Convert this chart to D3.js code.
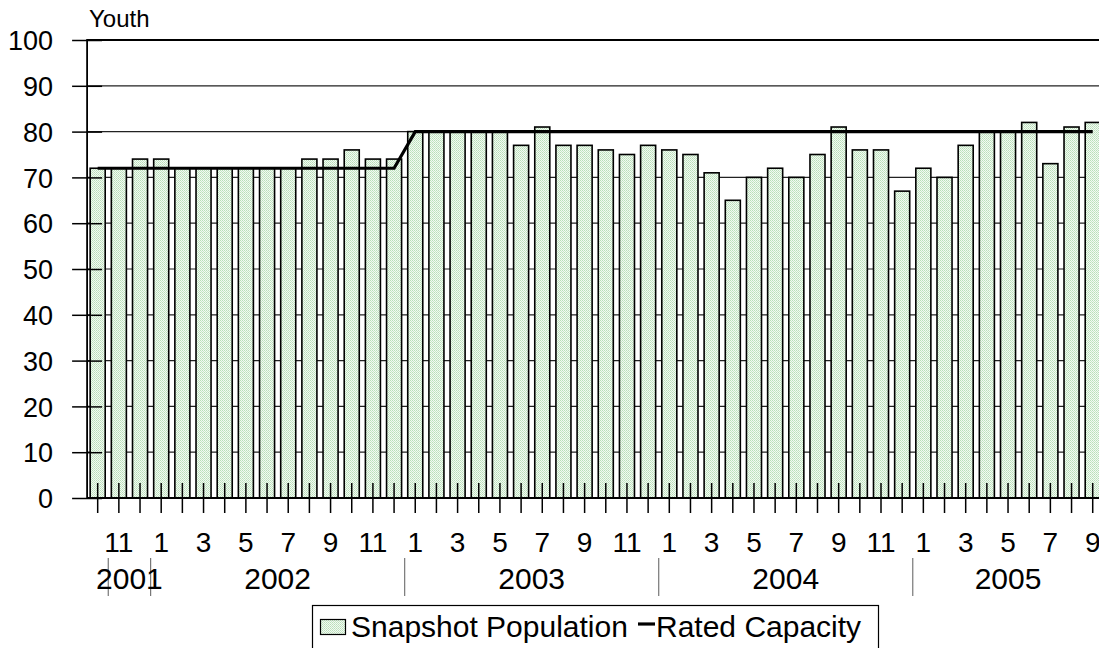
<!DOCTYPE html>
<html>
<head>
<meta charset="utf-8">
<script src="https://cdn.jsdelivr.net/npm/d3@7"></script>
<style>
  html, body { margin: 0; padding: 0; background: #fff; }
  svg { display: block; font-family: "Liberation Sans", Arial, sans-serif; }
</style>
</head>
<body>
<svg id="chart" width="1099" height="648"></svg>
<script>
// ---- DATA ----
const monthCol = [10, 11, 12,
  1, 2, 3, 4, 5, 6, 7, 8, 9, 10, 11, 12,
  1, 2, 3, 4, 5, 6, 7, 8, 9, 10, 11, 12,
  1, 2, 3, 4, 5, 6, 7, 8, 9, 10, 11, 12,
  1, 2, 3, 4, 5, 6, 7, 8, 9];
const yearCol = ["", "2001", "",
  "2002", "", "", "", "", "", "", "", "", "", "", "",
  "2003", "", "", "", "", "", "", "", "", "", "", "",
  "2004", "", "", "", "", "", "", "", "", "", "", "",
  "2005", "", "", "", "", "", "", "", ""];
const population = [72, 72, 74,
  74, 72, 72, 72, 72, 72, 72, 74, 74, 76, 74, 74,
  80, 80, 80, 80, 80, 77, 81, 77, 77, 76, 75, 77,
  76, 75, 71, 65, 70, 72, 70, 75, 81, 76, 76, 67,
  72, 70, 77, 80, 80, 82, 73, 81, 82];
const capacity = [72, 72, 72,
  72, 72, 72, 72, 72, 72, 72, 72, 72, 72, 72, 72,
  80, 80, 80, 80, 80, 80, 80, 80, 80, 80, 80, 80,
  80, 80, 80, 80, 80, 80, 80, 80, 80, 80, 80, 80,
  80, 80, 80, 80, 80, 80, 80, 80, 80];
const yTicks = [0, 10, 20, 30, 40, 50, 60, 70, 80, 90, 100];
const seriesNames = ["Snapshot Population", "Rated Capacity"];
const yAxisTitle = "Youth";

// ---- LAYOUT ----
const svg = d3.select("#chart");
const plotLeft = 87.1, plotRight = 1103.3, plotTop = 40, plotBottom = 498;
const font = '"Liberation Sans", Arial, sans-serif';

const idx = d3.range(population.length);
const x = d3.scaleBand().domain(idx).range([plotLeft, plotRight]).paddingInner(0.29).paddingOuter(0.145);
const xStep = x.step();
const xc = i => x(i) + x.bandwidth() / 2;
const y = d3.scaleLinear().domain([0, 100]).range([plotBottom, plotTop]);

// pattern for bars
const defs = svg.append("defs");
const pat = defs.append("pattern").attr("id", "stip").attr("width", 2).attr("height", 2)
  .attr("patternUnits", "userSpaceOnUse");
pat.append("rect").attr("width", 2).attr("height", 2).attr("fill", "#f2faf2");
pat.append("rect").attr("width", 1).attr("height", 1).attr("fill", "#b9dfb9");
pat.append("rect").attr("x", 1).attr("y", 1).attr("width", 1).attr("height", 1).attr("fill", "#c8e6c8");

// gridlines
svg.append("g").selectAll("line").data(yTicks.filter(t => t > 0)).join("line")
  .attr("x1", plotLeft).attr("x2", plotRight)
  .attr("y1", d => y(d)).attr("y2", d => y(d))
  .attr("stroke", d => d === 100 ? "#000" : "#222")
  .attr("stroke-width", d => d === 100 ? 2 : 1.2);

// bars
svg.append("g").selectAll("rect").data(idx).join("rect")
  .attr("x", i => x(i)).attr("width", x.bandwidth())
  .attr("y", i => y(population[i])).attr("height", i => y(0) - y(population[i]))
  .attr("fill", "url(#stip)").attr("stroke", "#000").attr("stroke-width", 1.6);

// y axis
const yAxis = d3.axisLeft(y).tickValues(yTicks).tickSize(0).tickFormat(d3.format("d"));
const yg = svg.append("g").attr("transform", `translate(${plotLeft},0)`).call(yAxis);
yg.select(".domain").remove();
yg.selectAll(".tick text").attr("x", -34).attr("dy", "0.36em")
  .attr("font-size", 27).attr("font-family", font).attr("fill", "#000");
yg.selectAll(".tick").append("line").attr("x1", -15).attr("x2", 15)
  .attr("stroke", "#000").attr("stroke-width", 1.5);
svg.append("line").attr("x1", plotLeft).attr("x2", plotLeft)
  .attr("y1", plotTop - 1).attr("y2", plotBottom).attr("stroke", "#000").attr("stroke-width", 1.8);

// x axis
const xAxis = d3.axisBottom(x).tickSize(0).tickFormat(i => i % 2 === 1 ? monthCol[i] : "");
const xg = svg.append("g").attr("transform", `translate(0,${plotBottom})`).call(xAxis);
xg.select(".domain").remove();
xg.selectAll(".tick text").attr("y", 54).attr("dy", 0)
  .attr("font-size", 28).attr("font-family", font).attr("fill", "#000");
xg.selectAll(".tick").append("line").attr("y1", -15).attr("y2", 15)
  .attr("stroke", "#000").attr("stroke-width", 1.5);
svg.append("line").attr("x1", plotLeft).attr("x2", plotRight)
  .attr("y1", plotBottom).attr("y2", plotBottom).attr("stroke", "#000").attr("stroke-width", 1.8);

// year groups
const starts = idx.filter(i => yearCol[i] !== "");
const groups = starts.map((s, k) => ({ year: yearCol[s], start: s, end: k + 1 < starts.length ? starts[k + 1] : idx.length }));
const bandEdge = i => plotLeft + x.paddingOuter() * 0 + i * xStep;
svg.append("g").selectAll("line").data(starts).join("line")
  .attr("x1", i => x(i) - x.bandwidth() * 0 - (xStep - x.bandwidth()) / 2)
  .attr("x2", i => x(i) - (xStep - x.bandwidth()) / 2)
  .attr("y1", 558).attr("y2", 596).attr("stroke", "#777").attr("stroke-width", 1.2);
svg.append("g").selectAll("text").data(groups).join("text")
  .attr("x", g => (x(g.start) - (xStep - x.bandwidth()) / 2 + x(g.end - 1) + x.bandwidth() + (xStep - x.bandwidth()) / 2) / 2)
  .attr("y", 589).attr("text-anchor", "middle")
  .attr("font-size", 30).attr("font-family", font).text(g => g.year);

// capacity line
svg.append("path").datum(idx)
  .attr("d", d3.line().x(i => xc(i)).y(i => y(capacity[i])))
  .attr("fill", "none").attr("stroke", "#000").attr("stroke-width", 3.2);

// axis title
svg.append("text").attr("x", 89).attr("y", 27).attr("font-size", 24).attr("font-family", font).text(yAxisTitle);

// legend
const lg = svg.append("g");
lg.append("rect").attr("x", 312.5).attr("y", 605.5).attr("width", 566).attr("height", 60)
  .attr("fill", "#fff").attr("stroke", "#000").attr("stroke-width", 1.2);
lg.append("rect").attr("x", 320.5).attr("y", 619.5).attr("width", 25).attr("height", 15)
  .attr("fill", "url(#stip)").attr("stroke", "#000").attr("stroke-width", 1.2);
lg.append("text").attr("x", 351).attr("y", 637).attr("font-size", 30).attr("font-family", font).text(seriesNames[0]);
lg.append("line").attr("x1", 638).attr("x2", 655).attr("y1", 624).attr("y2", 624)
  .attr("stroke", "#000").attr("stroke-width", 3.2);
lg.append("text").attr("x", 656).attr("y", 637).attr("font-size", 30).attr("font-family", font).text(seriesNames[1]);
</script>
</body>
</html>
